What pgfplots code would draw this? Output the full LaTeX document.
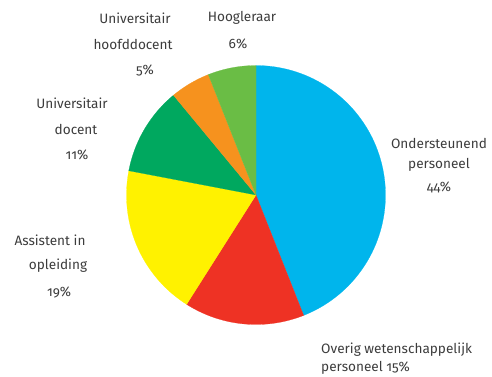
\documentclass[border=0pt]{standalone}
\usepackage{pgfplots}
\pgfplotsset{compat=1.18}
\usepackage{fontspec}
\setmainfont[Numbers=OldStyle]{Fira Sans}
\definecolor{cblue}{RGB}{0,181,236}
\definecolor{cred}{RGB}{238,50,36}
\definecolor{cyellow}{RGB}{255,242,0}
\definecolor{cgreen}{RGB}{0,168,95}
\definecolor{corange}{RGB}{246,146,30}
\definecolor{clgreen}{RGB}{106,189,69}
\definecolor{ctext}{RGB}{60,60,60}
% cumulative percentages (start, end) of each slice, clockwise from the top
% Ondersteunend 44, Overig wet. 15, AiO 19, UD 11, UHD 5, Hoogleraar 6
\newcommand{\slice}[3]{%
  \addplot[fill=#3, draw=#3, line width=0.2pt, domain={90-3.6*(#2)}:{90-3.6*(#1)}, samples=80]
    ({256+129.5*cos(x)},{181+129.5*sin(x)}) -- (axis cs:256,181) -- cycle;}
\begin{document}
\begin{tikzpicture}
\begin{axis}[
  width=492pt, height=376pt, scale only axis,
  xmin=0, xmax=492, ymin=0, ymax=376,
  hide axis, clip=false,
]
\path (axis cs:0,0) rectangle (axis cs:492,376);
\slice{0}{44}{cblue}
\slice{44}{59}{cred}
\slice{59}{78}{cyellow}
\slice{78}{89}{cgreen}
\slice{89}{94}{corange}
\slice{94}{100}{clgreen}
\begin{scope}[every node/.style={text=ctext, font=\fontsize{13.6}{16}\selectfont, inner sep=0pt}]
\node at (axis cs:439,233) {Ondersteunend};
\node at (axis cs:439,211) {personeel};
\node at (axis cs:439,189) {44\%};
\node[anchor=west] at (axis cs:321,26) {Overig wetenschappelijk};
\node[anchor=west] at (axis cs:321,8) {personeel 15\%};
\node at (axis cs:50,136) {Assistent in};
\node at (axis cs:58,110) {opleiding};
\node at (axis cs:59,84) {19\%};
\node at (axis cs:72,273) {Universitair};
\node at (axis cs:76,247) {docent};
\node at (axis cs:77,221) {11\%};
\node at (axis cs:135,358) {Universitair};
\node at (axis cs:133,332) {hoofddocent};
\node at (axis cs:145,306) {5\%};
\node at (axis cs:242,358) {Hoogleraar};
\node at (axis cs:238,332) {6\%};
\end{scope}
\end{axis}
\end{tikzpicture}
\end{document}
